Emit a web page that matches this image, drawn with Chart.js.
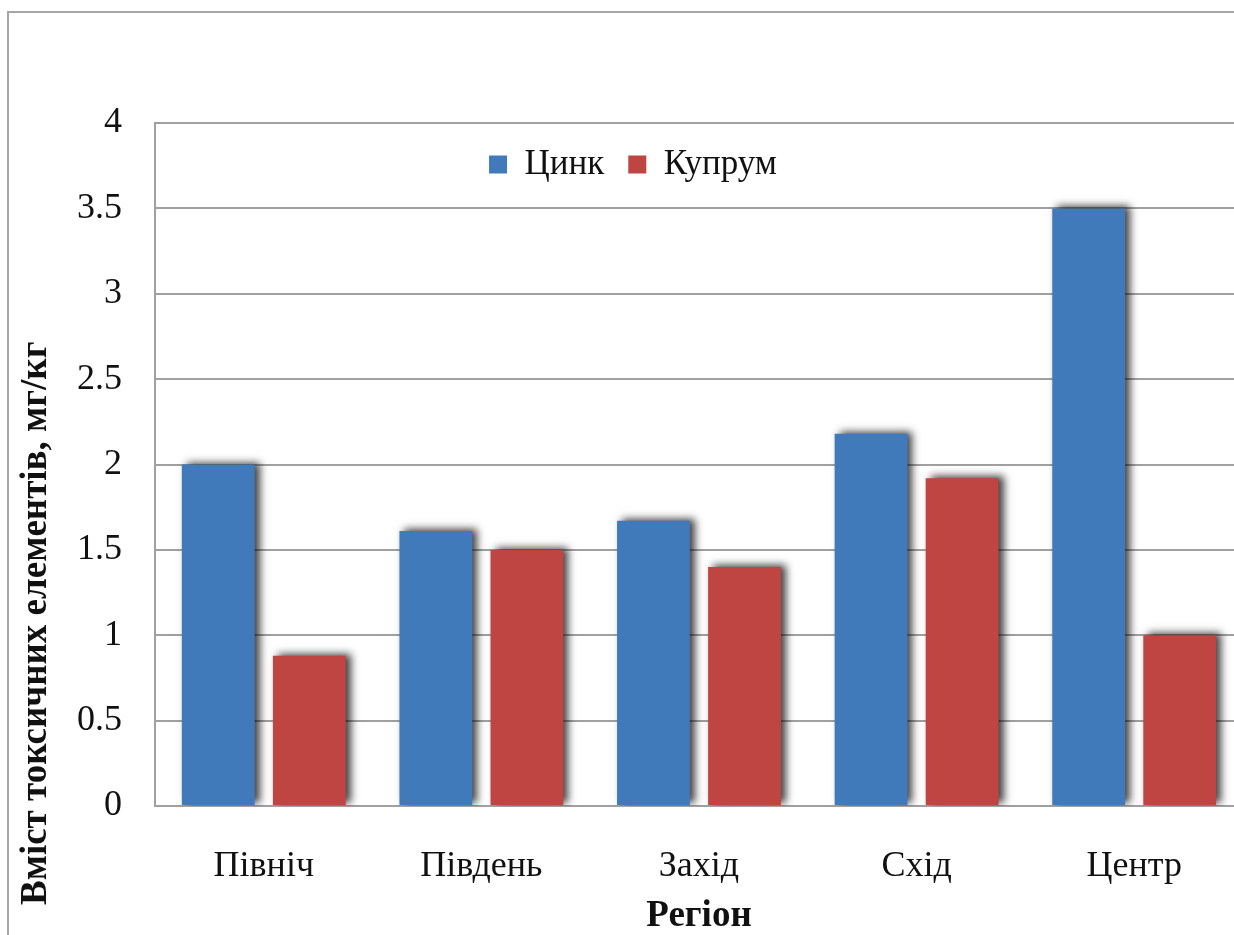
<!DOCTYPE html>
<html>
<head>
<meta charset="utf-8">
<script src="https://cdn.jsdelivr.net/npm/chart.js@4/dist/chart.umd.min.js"></script>
<style>
html,body{margin:0;padding:0;background:#fff;overflow:hidden;width:1234px;height:935px;}
#c{position:absolute;left:0;top:0;}
</style>
</head>
<body>
<canvas id="c" width="1260" height="935"></canvas>
<script>
const categories = ['Північ', 'Південь', 'Захід', 'Схід', 'Центр'];
const zincValues = [2.0, 1.61, 1.67, 2.18, 3.5];
const copperValues = [0.88, 1.5, 1.4, 1.92, 1.0];
const seriesNames = ['Цинк', 'Купрум'];
const yTitle = 'Вміст токсичних елементів, мг/кг';
const xTitle = 'Регіон';

const FONT = "'Liberation Serif', 'Times New Roman', serif";
const TITLE_PAD_TOP = 14.3;
const TITLE_SIZE = 37;

const framePlugin = {
  id: 'frame',
  beforeDraw(chart) {
    const ctx = chart.ctx;
    ctx.save();
    ctx.fillStyle = '#fff';
    ctx.fillRect(0, 0, chart.width, chart.height);
    ctx.strokeStyle = '#a6a6a6';
    ctx.lineWidth = 2;
    ctx.beginPath();
    ctx.moveTo(8, chart.height);
    ctx.lineTo(8, 12);
    ctx.lineTo(chart.width, 12);
    ctx.stroke();
    ctx.restore();
  }
};

const legendPatch = {
  id: 'legendPatch',
  afterInit(chart) {
    const lg = chart.legend;
    if (lg && !lg._patched) {
      const orig = lg.fit;
      lg.fit = function() { orig.call(this); this.height = 0; };
      lg._patched = true;
    }
  },
  afterLayout(chart) {
    const lg = chart.legend;
    if (lg) {
      lg.left = 6; lg.right = 1260; lg.width = lg.right - lg.left;
      lg.top = chart.chartArea.top; lg.bottom = lg.top + 90; lg.height = 90;
    }
  }
};

const shadowPlugin = {
  id: 'barShadow',
  beforeDatasetsDraw(chart) {
    const ctx = chart.ctx;
    ctx.save();
    ctx.shadowColor = 'rgba(0,0,0,0.75)';
    ctx.shadowBlur = 8;
    ctx.shadowOffsetX = 5;
    ctx.shadowOffsetY = -2;
  },
  afterDatasetsDraw(chart) {
    chart.ctx.restore();
  }
};

new Chart(document.getElementById('c'), {
  type: 'bar',
  data: {
    labels: categories,
    datasets: [
      { label: seriesNames[0], data: zincValues, backgroundColor: '#417abb', borderWidth: 0 },
      { label: seriesNames[1], data: copperValues, backgroundColor: '#be4542', borderWidth: 0 }
    ]
  },
  options: {
    responsive: false,
    animation: false,
    categoryPercentage: 0.837,
    barPercentage: 0.80,
    layout: { padding: { top: 123, right: 17, bottom: 30, left: 0 } },
    plugins: {
      tooltip: { enabled: false },
      legend: {
        display: true,
        position: 'top',
        align: 'center',
        labels: {
          boxWidth: 18,
          boxHeight: 18,
          padding: 24,
          color: '#111',
          font: { family: FONT, size: 35 }
        }
      },
      title: {
        display: true,
        position: 'left',
        align: 'start',
        text: yTitle,
        color: '#111',
        font: { family: FONT, size: TITLE_SIZE, weight: 'bold', lineHeight: 1.2 },
        padding: { top: TITLE_PAD_TOP, bottom: 0 }
      }
    },
    scales: {
      x: {
        grid: { display: false, drawTicks: false },
        border: { display: false },
        ticks: { color: '#111', padding: 39, font: { family: FONT, size: 36 } },
        title: {
          display: true, text: xTitle, color: '#111',
          font: { family: FONT, size: TITLE_SIZE, weight: 'bold', lineHeight: 1.2 },
          padding: { top: 0, bottom: -34 }
        },
        afterFit(s) { s.height = 99; }
      },
      y: {
        min: 0, max: 4,
        ticks: {
          stepSize: 0.5, color: '#111', padding: 33,
          font: { family: FONT, size: 36 },
          callback: (v) => String(+v)
        },
        grid: { color: '#a0a0a0', lineWidth: 2, drawTicks: false },
        border: { display: true, color: '#a0a0a0', width: 2 },
        afterFit(s) { s.width = 155 - (TITLE_SIZE * 1.2 + TITLE_PAD_TOP); }
      }
    }
  },
  plugins: [framePlugin, legendPatch, shadowPlugin]
});
</script>
</body>
</html>
